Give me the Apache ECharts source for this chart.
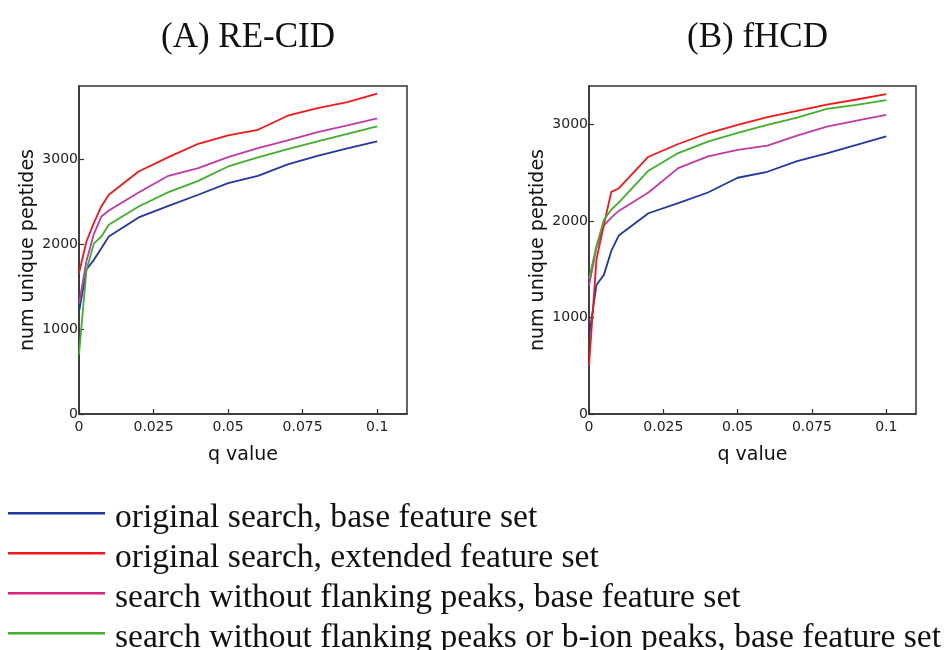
<!DOCTYPE html>
<html><head><meta charset="utf-8">
<script src="https://cdn.jsdelivr.net/npm/echarts@6/dist/echarts.min.js"></script>
<style>html,body{margin:0;padding:0;background:#fff}#c{width:950px;height:650px}</style>
</head><body><div id="c"></div>
<script>
const qValues = [0, 0.0025, 0.005, 0.0075, 0.01, 0.02, 0.03, 0.04, 0.05, 0.06, 0.07, 0.08, 0.09, 0.1];
const seriesNames = [
  'original search, base feature set',
  'original search, extended feature set',
  'search without flanking peaks, base feature set',
  'search without flanking peaks or b-ion peaks, base feature set'
];
const panelTitles = ['(A) RE-CID', '(B) fHCD'];
const xTicks = [0, 0.025, 0.05, 0.075, 0.1];
const yTicks = [0, 1000, 2000, 3000];

// Panel A: RE-CID
const a_origBase = [1200, 1700, 1814, 1951, 2089, 2313, 2450, 2580, 2717, 2803, 2937, 3039, 3125, 3208];
const a_origExt = [1660, 2030, 2250, 2442, 2580, 2854, 3023, 3180, 3278, 3345, 3510, 3600, 3671, 3769];
const a_noFlank = [1300, 1800, 2120, 2324, 2395, 2607, 2803, 2894, 3023, 3129, 3220, 3318, 3396, 3479];
const a_noFlankB = [700, 1694, 2008, 2089, 2226, 2442, 2611, 2744, 2913, 3019, 3117, 3208, 3298, 3384];

// Panel B: fHCD
const b_origBase = [800, 1338, 1442, 1690, 1850, 2081, 2185, 2296, 2449, 2511, 2622, 2702, 2789, 2879];
const b_origExt = [500, 1600, 1960, 2303, 2338, 2667, 2799, 2910, 2997, 3077, 3143, 3208, 3260, 3316];
const b_noFlank = [1330, 1720, 1955, 2036, 2105, 2296, 2549, 2671, 2737, 2782, 2886, 2980, 3042, 3101];
const b_noFlankB = [1400, 1740, 2010, 2120, 2192, 2522, 2705, 2823, 2914, 2997, 3073, 3163, 3205, 3254];

const colors = ['#2038a0', '#f01818', '#c03aa8', '#40b02a'];
const legendColors = ['#2038a0', '#f01818', '#e0207f', '#40b02a'];

const panels = [
  [a_origBase, a_origExt, a_noFlank, a_noFlankB],
  [b_origBase, b_origExt, b_noFlank, b_noFlankB]
];
const yMax = [3860, 3400];
const grids = [
  {left: 79, top: 86, width: 328, height: 328},
  {left: 589, top: 86, width: 327, height: 328}
];

const sans = 'DejaVu Sans';
const serif = 'Liberation Serif';

const chart = echarts.init(document.getElementById('c'), null, {renderer: 'canvas'});

const xAxes = [], yAxes = [], series = [], titles = [];
grids.forEach((g, i) => {
  xAxes.push({
    type: 'value', gridIndex: i, min: 0, max: 0.11, interval: 0.025,
    name: 'q value', nameLocation: 'middle', nameGap: 32,
    nameTextStyle: {fontFamily: sans, fontSize: 19, color: '#111'},
    axisLine: {show: true, lineStyle: {color: '#333', width: 1.5}},
    axisTick: {show: true, inside: true, length: 5, lineStyle: {color: '#333', width: 1.2}},
    axisLabel: {show: true, margin: 6, fontFamily: sans, fontSize: 14, color: '#222', showMaxLabel: false,
      formatter: v => (xTicks.indexOf(+v.toFixed(4)) >= 0 ? String(+v.toFixed(4)) : '')},
    splitLine: {show: false}
  });
  yAxes.push({
    type: 'value', gridIndex: i, min: 0, max: yMax[i], interval: 1000,
    name: 'num unique peptides', nameLocation: 'middle', nameGap: 41, nameRotate: 90,
    nameTextStyle: {fontFamily: sans, fontSize: 19, color: '#111'},
    axisLine: {show: true, lineStyle: {color: '#333', width: 1.5}},
    axisTick: {show: true, inside: true, length: 5, lineStyle: {color: '#333', width: 1.2}},
    axisLabel: {show: true, margin: 1, fontFamily: sans, fontSize: 14, color: '#222', showMaxLabel: false,
      formatter: v => (yTicks.indexOf(v) >= 0 ? String(v) : '')},
    splitLine: {show: false}
  });
  panels[i].forEach((arr, k) => {
    series.push({
      type: 'line', name: seriesNames[k], xAxisIndex: i, yAxisIndex: i,
      data: qValues.map((q, j) => [q, arr[j]]),
      showSymbol: false, symbol: 'none',
      lineStyle: {color: colors[k], width: 1.8},
      itemStyle: {color: colors[k]},
      z: 2 + (k === 1 ? 3 : k),
      animation: false
    });
  });
  titles.push({
    text: panelTitles[i], left: g.left + g.width / 2, top: 15, textAlign: 'center',
    textStyle: {fontFamily: serif, fontSize: 35, fontWeight: 'normal', color: '#111'}
  });
});

const legends = seriesNames.map((n, k) => ({
  orient: 'vertical', left: 8, top: 501 + 40 * k, padding: 0,
  icon: 'path://M0,0h97v2.5h-97z M0,12', itemWidth: 97, itemHeight: 12,
  data: [{name: n, itemStyle: {color: legendColors[k]}}],
  textStyle: {fontFamily: serif, fontSize: 33.6, color: '#111', padding: [0, 0, 0, 5]},
  selectedMode: false
}));

chart.setOption({
  animation: false,
  backgroundColor: '#fff',
  title: titles,
  grid: grids.map(g => Object.assign({show: true, borderColor: '#333', borderWidth: 1.5, backgroundColor: 'transparent'}, g)),
  xAxis: xAxes,
  yAxis: yAxes,
  legend: legends,
  series: series
});
</script>
</body></html>
